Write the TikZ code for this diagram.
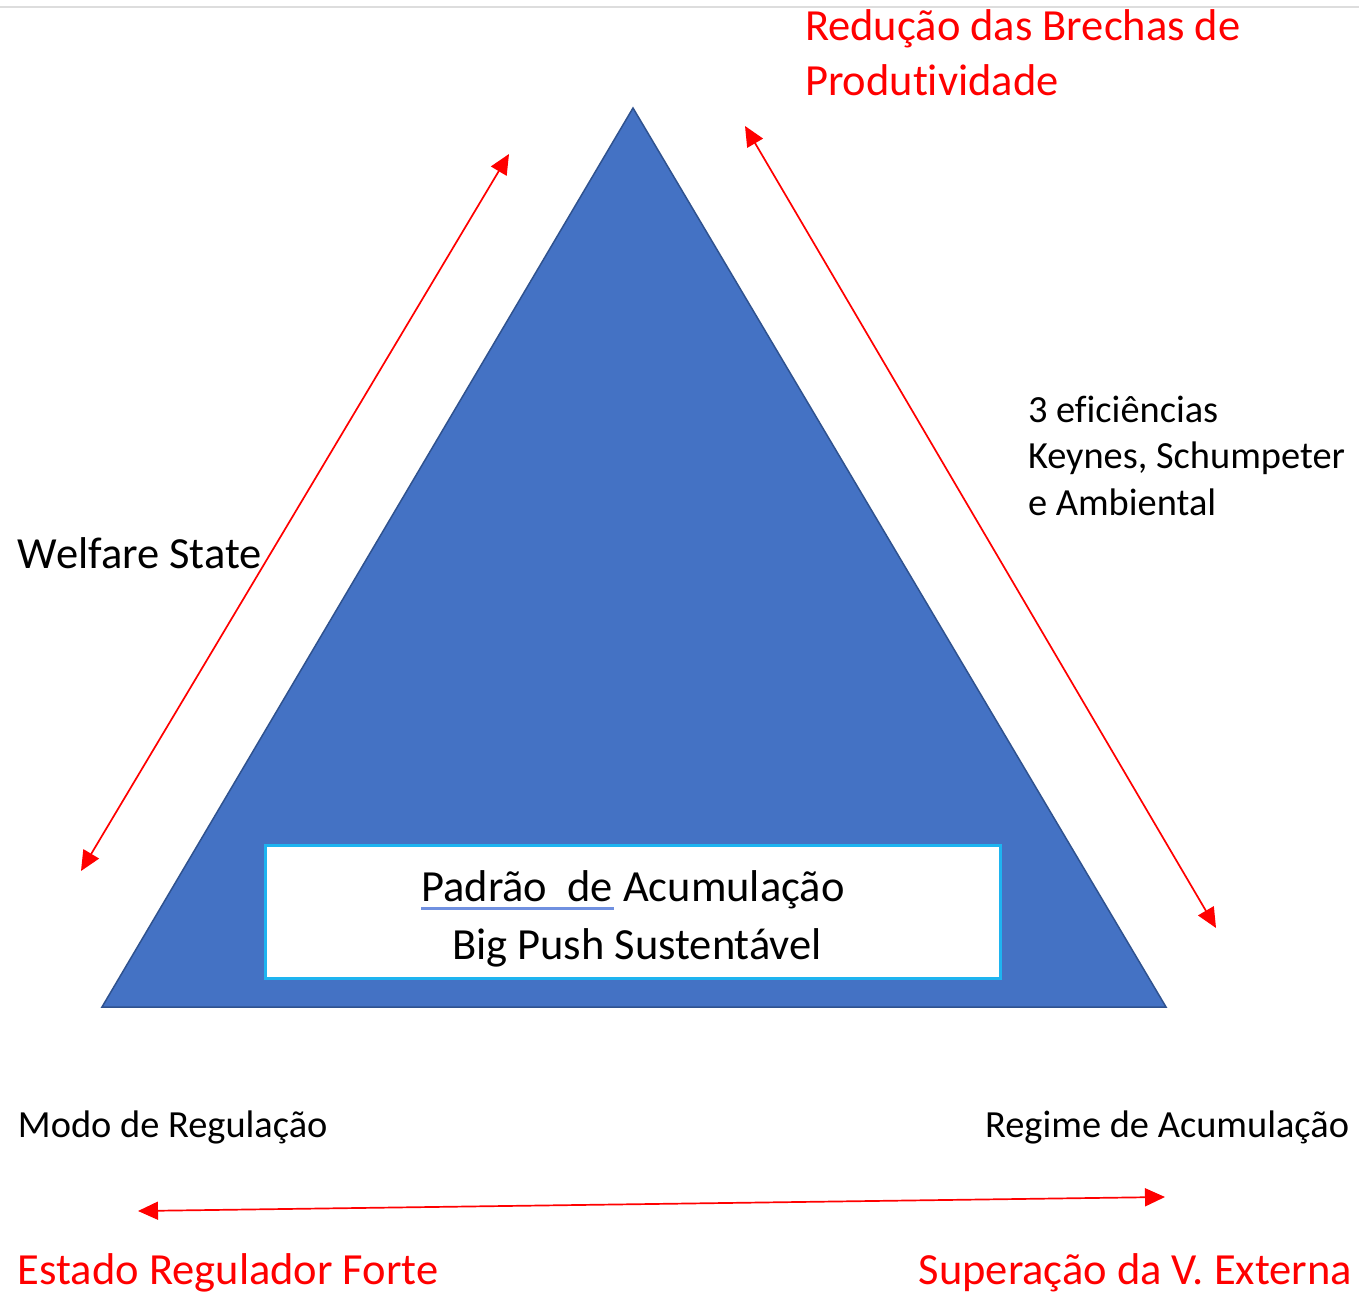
\documentclass[tikz,border=0pt]{standalone}
\usepackage{fontspec}
\setmainfont{Carlito}[Ligatures=NoCommon]
\usetikzlibrary{arrows.meta}
\definecolor{triblue}{HTML}{4472C4}
\definecolor{triedge}{HTML}{2F528F}
\definecolor{boxedge}{HTML}{1EB4F0}
\definecolor{spell}{HTML}{7090E0}
\definecolor{topline}{HTML}{DDDDDD}
\begin{document}
\begin{tikzpicture}[x=0.5pt,y=-0.5pt,
  big/.style={font=\fontsize{22.25}{27}\selectfont},
  small/.style={font=\fontsize{19.2}{23.5}\selectfont},
  lbl/.style={inner sep=0pt,outer sep=0pt,anchor=base west},
  lblr/.style={inner sep=0pt,outer sep=0pt,anchor=base east},
  lblc/.style={inner sep=0pt,outer sep=0pt,anchor=base},
  redarrow/.style={draw=red,line width=0.85pt,
    {Triangle[length=10pt,width=9pt]}-{Triangle[length=10pt,width=9pt]}}]
\useasboundingbox (0,0) rectangle (1359,1293);
% top rule
\coordinate (tl) at (0,7);
\coordinate (tr) at (1359,7);
\draw[topline,line width=1pt] (tl) -- (tr);
% triangle
\coordinate (apex) at (633,108);
\coordinate (bl) at (102,1007);
\coordinate (br) at (1166,1007);
\draw[fill=triblue,draw=triedge,line width=0.75pt] (apex) -- (bl) -- (br) -- cycle;
% white box
\node[draw=boxedge,fill=white,line width=1.5pt,minimum width=367.5pt,minimum height=66.5pt,inner sep=0pt] (box) at (632.5,911.5) {};
\node[lblc,big] (p1) at (633,901) {Padrão\ \ de Acumulação};
\node[lblc,big] (p2) at (637,959) {Big Push Sustentável};
\coordinate (ul1) at (421,908);
\coordinate (ul2) at (614,908);
\draw[spell,line width=1.5pt] (ul1) -- (ul2);
% arrows
\coordinate (a1) at (81,871);
\coordinate (a2) at (509,154);
\coordinate (b1) at (745,126);
\coordinate (b2) at (1216,928);
\coordinate (c1) at (138,1211);
\coordinate (c2) at (1165,1197);
\draw[redarrow] (a1) -- (a2);
\draw[redarrow] (b1) -- (b2);
\draw[redarrow] (c1) -- (c2);
% labels
\node[lbl,big,red] (r1) at (805,41) {Redução das Brechas de};
\node[lbl,big,red] (r2) at (805,96) {Produtividade};
\node[lbl,small] (e1) at (1028,423) {3 eficiências};
\node[lbl,small] (e2) at (1028,469) {Keynes, Schumpeter};
\node[lbl,small] (e3) at (1028,516) {e Ambiental};
\node[lbl,big] (w) at (18,569) {Welfare State};
\node[lbl,small] (m) at (18,1137) {Modo de Regulação};
\node[lblr,small] (g) at (1349,1137) {Regime de Acumulação};
\node[lbl,big,red] (s1) at (18,1284) {Estado Regulador Forte};
\node[lblr,big,red] (s2) at (1352,1284) {Superação da V. Externa};
\end{tikzpicture}
\end{document}
